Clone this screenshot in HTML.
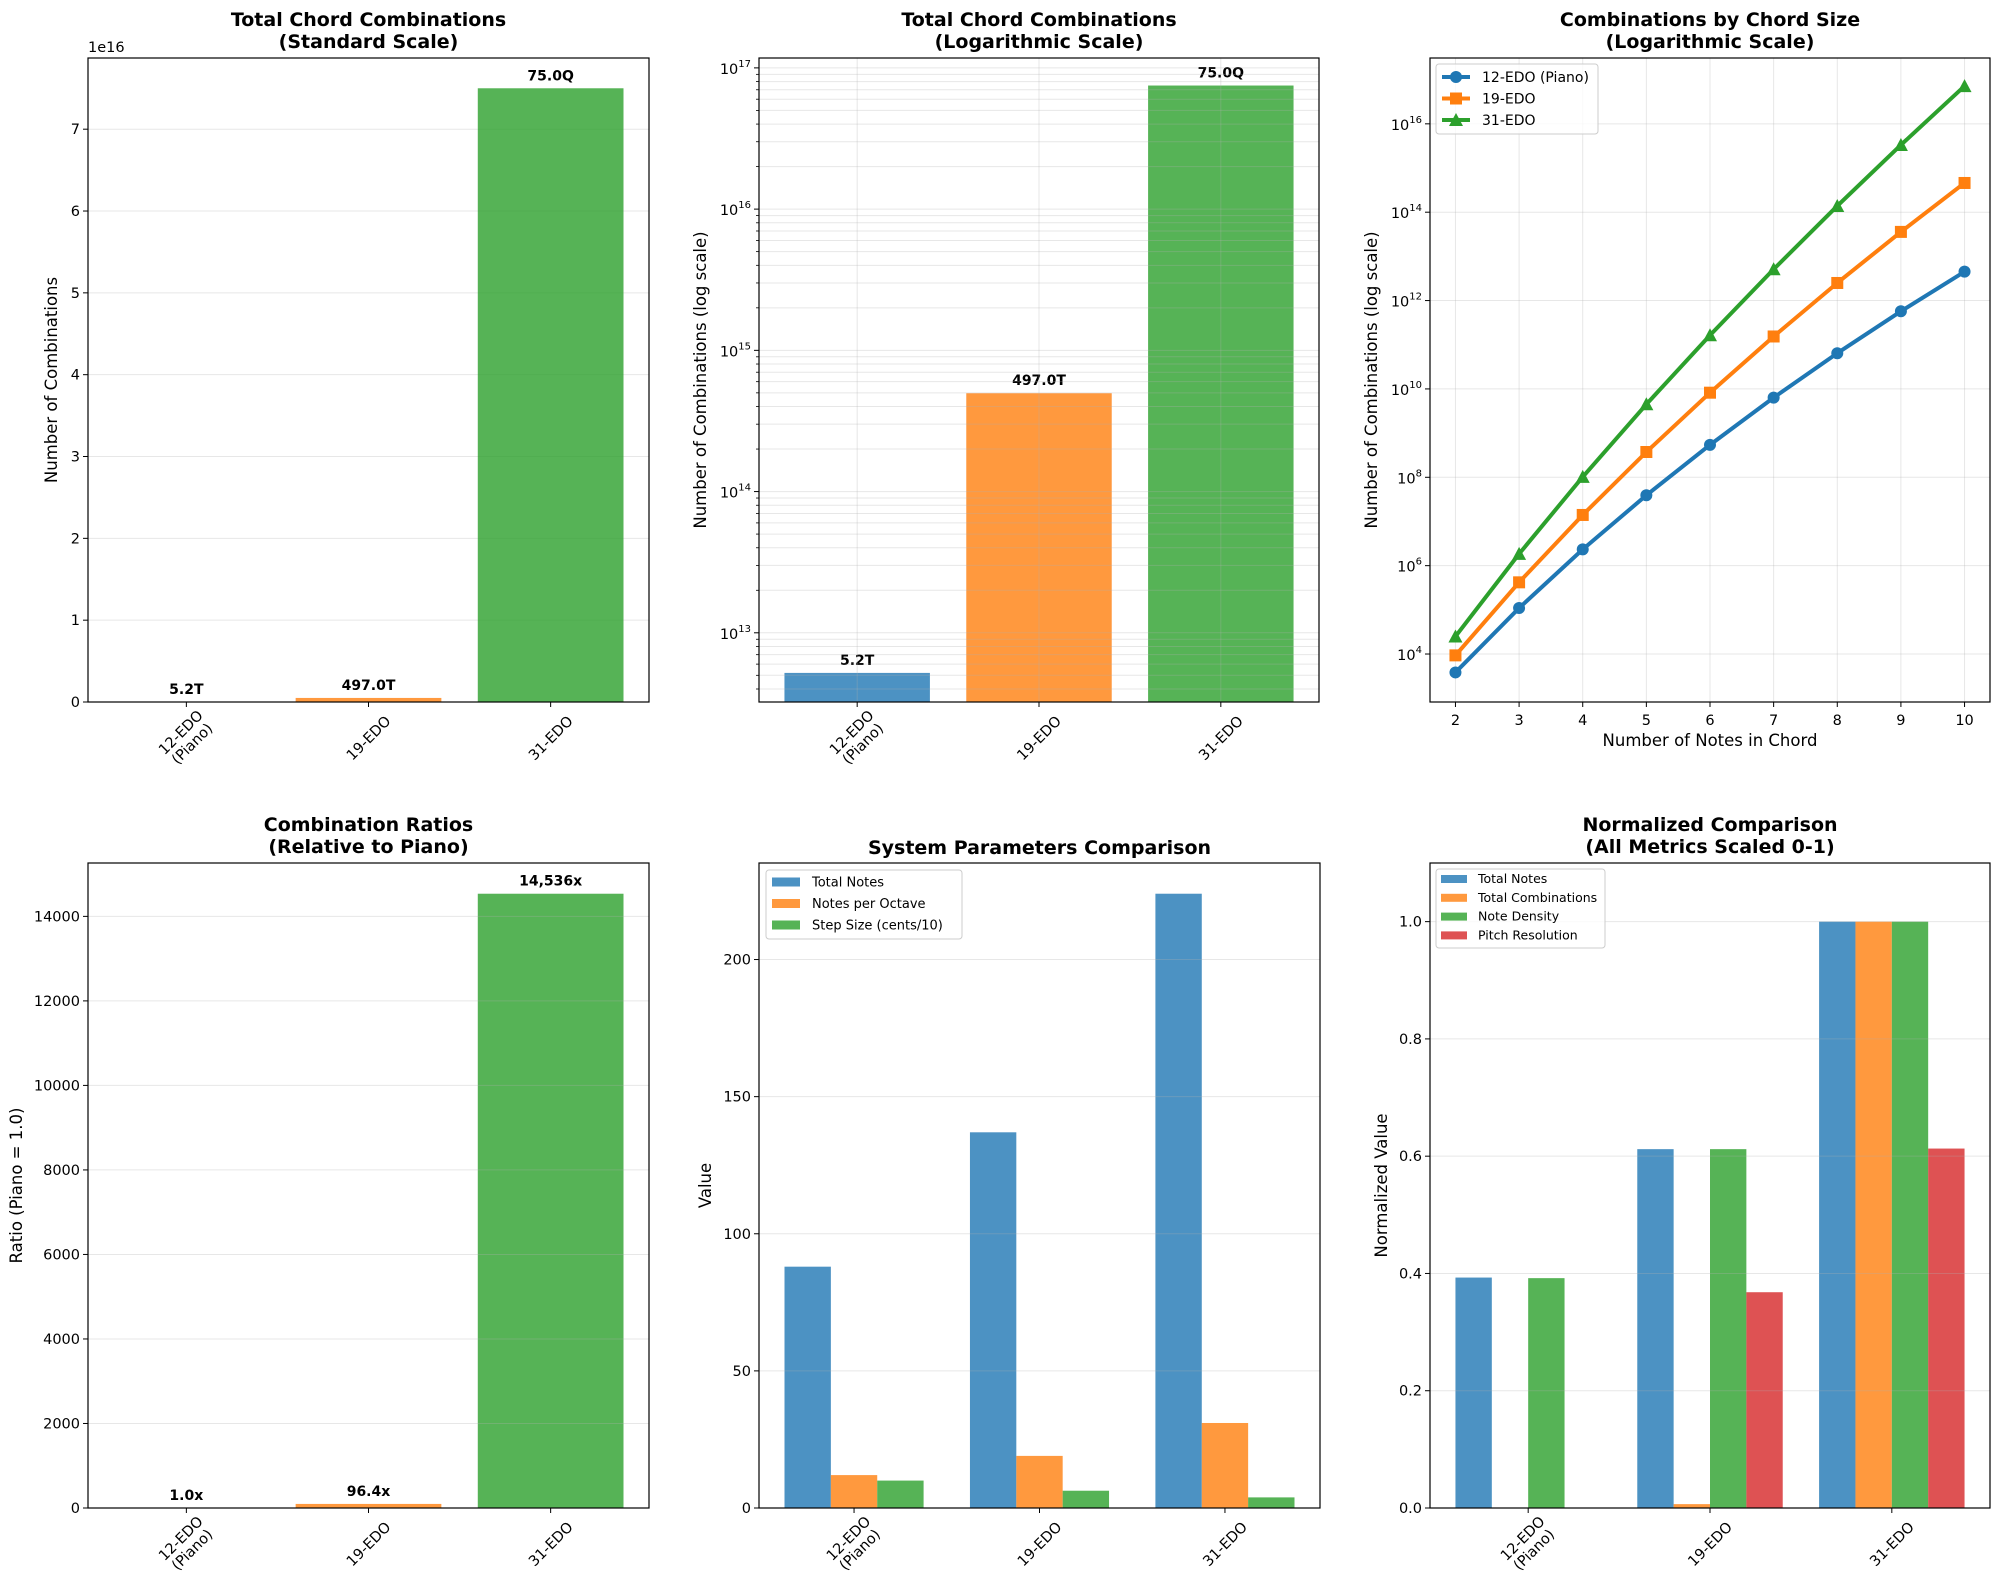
<!DOCTYPE html>
<html><head><meta charset="utf-8">
<style>
html,body{margin:0;padding:0;background:#fff;}
svg{display:block;font-family:"DejaVu Sans","Liberation Sans",sans-serif;}
</style></head>
<body>
<svg id="fig" xmlns="http://www.w3.org/2000/svg" width="2000" height="1589" viewBox="0 0 2000 1589">
<rect x="0" y="0" width="2000" height="1589" fill="#fff"/>
</svg>
<script>
// ---------- data ----------
const systems = ['12-EDO|(Piano)', '19-EDO', '31-EDO'];
const totalCombos = [5.2e12, 4.97e14, 7.5e16];
const comboLabels = ['5.2T', '497.0T', '75.0Q'];
const chordSizes = [2, 3, 4, 5, 6, 7, 8, 9, 10];
const combos12 = [3828, 109736, 2331890, 39175752, 541931236, 6348337336, 64276915527, 571350360240, 4513667845896];
const combos19 = [9316, 419220, 14043870, 373566942, 8218472724, 153800000000, 2499500000000, 35826000000000, 458570000000000];
const combos31 = [24976, 1848224, 102114376, 4493032544, 163996000000, 5107300000000, 138535000000000, 3324850000000000, 71484000000000000];
const ratios = [1.0, 96.4, 14536];
const ratioLabels = ['1.0x', '96.4x', '14,536x'];
const totalNotes = [88, 137, 224];
const notesPerOctave = [12, 19, 31];
const stepSize = [10, 6.3, 3.87];
const normNotes = [0.393, 0.612, 1.0];
const normCombos = [0.00007, 0.0066, 1.0];
const normDensity = [0.392, 0.612, 1.0];
const normPitch = [0, 0.368, 0.613];
const ticks1 = [0, 1, 2, 3, 4, 5, 6, 7];
const logTicks2 = [13, 14, 15, 16, 17];
const logTicks3 = [4, 6, 8, 10, 12, 14, 16];
const ticks4 = [0, 2000, 4000, 6000, 8000, 10000, 12000, 14000];
const ticks5 = [0, 50, 100, 150, 200];
const ticks6 = [0, 0.2, 0.4, 0.6, 0.8, 1.0];

// ---------- helpers ----------
const NS = 'http://www.w3.org/2000/svg';
const svg = document.getElementById('fig');
const C = {blue:'#1f77b4', orange:'#ff7f0e', green:'#2ca02c', red:'#d62728'};
const TF = 14.5;
function mk(tag, parent, attrs) {
  const e = document.createElementNS(NS, tag);
  for (const k in attrs) e.setAttribute(k, attrs[k]);
  parent.appendChild(e);
  return e;
}
function sx(ax, v) { return ax.x0 + (v - ax.xmin) / (ax.xmax - ax.xmin) * (ax.x1 - ax.x0); }
function sy(ax, v) {
  const t = ax.log ? Math.log10(v) : v;
  return ax.y1 - (t - ax.ymin) / (ax.ymax - ax.ymin) * (ax.y1 - ax.y0);
}
function hgrid(ax, g, y) {
  const l = mk('line', g, {x1:ax.x0, x2:ax.x1, y1:y, y2:y, stroke:'#b0b0b0', 'stroke-opacity':0.3, 'stroke-width':1});
  
  
}
function vgrid(ax, g, x) {
  const l = mk('line', g, {x1:x, x2:x, y1:ax.y0, y2:ax.y1, stroke:'#b0b0b0', 'stroke-opacity':0.3, 'stroke-width':1});
  
  
}
function ytick(ax, g, y, label, sup) {
  mk('line', g, {x1:ax.x0-5, x2:ax.x0, y1:y, y2:y, stroke:'#000', 'stroke-width':1});
  const t = mk('text', g, {x:ax.x0-8, y:y+5, 'text-anchor':'end', 'font-size':TF, fill:'#000'});
  
  
  if (sup !== undefined) {
    t.setAttribute('y', y + 6);
    const a = mk('tspan', t, {}); a.textContent = '10';
    const b = mk('tspan', t, {dy:-7, 'font-size':10}); b.textContent = sup;
  } else t.textContent = label;
}
function xtickRot(ax, g, x, label) {
  mk('line', g, {x1:x, x2:x, y1:ax.y1, y2:ax.y1+5, stroke:'#000', 'stroke-width':1});
  const lines = label.split('|');
  const cy = ax.y1 + 36;
  const t = mk('text', g, {x:x, y:cy, 'text-anchor':'middle', 'font-size':TF, fill:'#000',
    transform:'rotate(-45 ' + x + ' ' + cy + ')'});
  
  
  lines.forEach((s, i) => {
    const sp = mk('tspan', t, {x:x, y: cy + 5 + (i - (lines.length-1)/2) * 16});
    sp.textContent = s;
  });
}
function frame(ax, g) {
  const r = mk('rect', g, {x:ax.x0, y:ax.y0, width:ax.x1-ax.x0, height:ax.y1-ax.y0, fill:'none', stroke:'#000', 'stroke-width':1.2});
  
  
}
function title(g, cx, lines, y) {
  lines.forEach((s, i) => {
    const t = mk('text', g, {x:cx, y:y + i*22, 'text-anchor':'middle', 'font-size':19, 'font-weight':'bold', fill:'#000'});
    
    
    t.textContent = s;
  });
}
function ylabel(g, x, cy, s) {
  const t = mk('text', g, {x:x, y:cy, 'text-anchor':'middle', 'font-size':16.5, fill:'#000', transform:'rotate(-90 ' + x + ' ' + cy + ')'});
  
  
  t.textContent = s;
}
function bar(ax, g, xc, w, v, color, name) {
  const xa = sx(ax, xc - w/2), xb = sx(ax, xc + w/2);
  const base = ax.log ? ax.y1 : sy(ax, 0);
  const top = v > 0 ? sy(ax, v) : base;
  const r = mk('rect', g, {x:xa, y:top, width:xb-xa, height:Math.max(0, base-top), fill:color, 'fill-opacity':0.8});
  
  
  return top;
}
function barLabel(g, x, y, s) {
  const t = mk('text', g, {x:x, y:y-8, 'text-anchor':'middle', 'font-size':14, 'font-weight':'bold', fill:'#000'});
  
  
  t.textContent = s;
}
function legendBox(g, x, y, w, h) {
  const r = mk('rect', g, {x:x, y:y, width:w, height:h, rx:3, fill:'#fff', 'fill-opacity':0.8, stroke:'#ccc', 'stroke-width':1});
  
  
}
const barColors = [C.blue, C.orange, C.green];

// ---------- chart 1 ----------
const A1 = {x0:88, x1:649, y0:58, y1:702, xmin:-0.54, xmax:2.54, ymin:0, ymax:7.87e16};
const g1 = mk('g', svg, {});


ticks1.forEach(t => hgrid(A1, g1, sy(A1, t*1e16)));
totalCombos.forEach((v, i) => {
  const top = bar(A1, g1, i, 0.8, v, barColors[i], 'bar-total-' + i);
  barLabel(g1, sx(A1, i), top, comboLabels[i]);
});
ticks1.forEach(t => ytick(A1, g1, sy(A1, t*1e16), String(t)));
systems.forEach((s, i) => xtickRot(A1, g1, sx(A1, i), s));
frame(A1, g1);
const off1 = mk('text', g1, {x:A1.x0, y:52, 'font-size':TF, fill:'#000'});


off1.textContent = '1e16';
title(g1, (A1.x0+A1.x1)/2, ['Total Chord Combinations', '(Standard Scale)'], 26);
ylabel(g1, 57, (A1.y0+A1.y1)/2, 'Number of Combinations');

// ---------- chart 2 ----------
const A2 = {x0:759, x1:1319, y0:58, y1:702, xmin:-0.54, xmax:2.54, ymin:12.51, ymax:17.07, log:true};
const g2 = mk('g', svg, {});


totalCombos.forEach((v, i) => {
  const top = bar(A2, g2, i, 0.8, v, barColors[i], 'bar-total-log-' + i);
  barLabel(g2, sx(A2, i), top, comboLabels[i]);
});
for (let d = 12; d <= 17; d++) for (let m = 1; m <= 9; m++) {
  const lv = d + Math.log10(m);
  if (lv < A2.ymin || lv > A2.ymax) continue;
  const y = sy(A2, Math.pow(10, lv));
  hgrid(A2, g2, y);
  if (m > 1) mk('line', g2, {x1:A2.x0-3, x2:A2.x0, y1:y, y2:y, stroke:'#000', 'stroke-width':0.8});
}
systems.forEach((s, i) => vgrid(A2, g2, sx(A2, i)));
logTicks2.forEach(t => ytick(A2, g2, sy(A2, Math.pow(10, t)), '', String(t)));
systems.forEach((s, i) => xtickRot(A2, g2, sx(A2, i), s));
frame(A2, g2);
title(g2, (A2.x0+A2.x1)/2, ['Total Chord Combinations', '(Logarithmic Scale)'], 26);
ylabel(g2, 706, (A2.y0+A2.y1)/2, 'Number of Combinations (log scale)');

// ---------- chart 3 ----------
const A3 = {x0:1430, x1:1990, y0:58, y1:702, xmin:1.6, xmax:10.4, ymin:2.914, ymax:17.49, log:true};
const g3 = mk('g', svg, {});


logTicks3.forEach(t => hgrid(A3, g3, sy(A3, Math.pow(10, t))));
chordSizes.forEach(n => vgrid(A3, g3, sx(A3, n)));
const series3 = [
  {vals: combos12, color: C.blue, marker: 'circle', name: '12-EDO (Piano)'},
  {vals: combos19, color: C.orange, marker: 'square', name: '19-EDO'},
  {vals: combos31, color: C.green, marker: 'triangle', name: '31-EDO'}
];
function marker(g, type, x, y, color) {
  let e;
  if (type === 'circle') e = mk('circle', g, {cx:x, cy:y, r:6, fill:color});
  else if (type === 'square') e = mk('rect', g, {x:x-6, y:y-6, width:12, height:12, fill:color});
  else e = mk('polygon', g, {points:(x)+','+(y-7)+' '+(x-7)+','+(y+6)+' '+(x+7)+','+(y+6), fill:color});
  return e;
}
series3.forEach((s, k) => {
  const pts = chordSizes.map((n, i) => sx(A3, n) + ',' + sy(A3, s.vals[i])).join(' ');
  const pl = mk('polyline', g3, {points:pts, fill:'none', stroke:s.color, 'stroke-width':4, 'stroke-linejoin':'round'});
  
  
  chordSizes.forEach((n, i) => {
    const m = marker(g3, s.marker, sx(A3, n), sy(A3, s.vals[i]), s.color);
    
    
  });
});
logTicks3.forEach(t => ytick(A3, g3, sy(A3, Math.pow(10, t)), '', String(t)));
chordSizes.forEach(n => {
  const x = sx(A3, n);
  mk('line', g3, {x1:x, x2:x, y1:A3.y1, y2:A3.y1+5, stroke:'#000', 'stroke-width':1});
  const t = mk('text', g3, {x:x, y:A3.y1+23, 'text-anchor':'middle', 'font-size':TF, fill:'#000'});
  
  
  t.textContent = String(n);
});
frame(A3, g3);
title(g3, (A3.x0+A3.x1)/2, ['Combinations by Chord Size', '(Logarithmic Scale)'], 26);
ylabel(g3, 1377, (A3.y0+A3.y1)/2, 'Number of Combinations (log scale)');
const xl3 = mk('text', g3, {x:(A3.x0+A3.x1)/2, y:746, 'text-anchor':'middle', 'font-size':16.5, fill:'#000'});


xl3.textContent = 'Number of Notes in Chord';
legendBox(g3, 1436, 64, 162, 70);
series3.forEach((s, k) => {
  const y = 77 + k*21.5;
  mk('line', g3, {x1:1442, x2:1470, y1:y, y2:y, stroke:s.color, 'stroke-width':4});
  marker(g3, s.marker, 1456, y, s.color);
  const t = mk('text', g3, {x:1482, y:y+5, 'font-size':14, fill:'#000'});
  
  
  t.textContent = s.name;
});

// ---------- chart 4 ----------
const A4 = {x0:88, x1:649, y0:863, y1:1508, xmin:-0.54, xmax:2.54, ymin:0, ymax:15263};
const g4 = mk('g', svg, {});


ratios.forEach((v, i) => {
  const top = bar(A4, g4, i, 0.8, v, barColors[i], 'bar-ratio-' + i);
  barLabel(g4, sx(A4, i), top, ratioLabels[i]);
});
ticks4.forEach(t => hgrid(A4, g4, sy(A4, t)));
ticks4.forEach(t => ytick(A4, g4, sy(A4, t), String(t)));
systems.forEach((s, i) => xtickRot(A4, g4, sx(A4, i), s));
frame(A4, g4);
title(g4, (A4.x0+A4.x1)/2, ['Combination Ratios', '(Relative to Piano)'], 831);
ylabel(g4, 22, (A4.y0+A4.y1)/2, 'Ratio (Piano = 1.0)');

// ---------- chart 5 ----------
const A5 = {x0:759, x1:1320, y0:863, y1:1508, xmin:-0.5125, xmax:2.5125, ymin:0, ymax:235.2};
const g5 = mk('g', svg, {});


const series5 = [
  {vals: totalNotes, color: C.blue, name: 'Total Notes'},
  {vals: notesPerOctave, color: C.orange, name: 'Notes per Octave'},
  {vals: stepSize, color: C.green, name: 'Step Size (cents/10)'}
];
series5.forEach((s, k) => s.vals.forEach((v, i) => bar(A5, g5, i + (k-1)*0.25, 0.25, v, s.color, 'bar-param-' + k + '-' + i)));
ticks5.forEach(t => hgrid(A5, g5, sy(A5, t)));
ticks5.forEach(t => ytick(A5, g5, sy(A5, t), String(t)));
systems.forEach((s, i) => xtickRot(A5, g5, sx(A5, i), s));
frame(A5, g5);
title(g5, (A5.x0+A5.x1)/2, ['System Parameters Comparison'], 854);
ylabel(g5, 711, (A5.y0+A5.y1)/2, 'Value');
legendBox(g5, 766, 870, 196, 69);
series5.forEach((s, k) => {
  const y = 882 + k*21.5;
  mk('rect', g5, {x:772, y:y-4.5, width:28, height:9, fill:s.color, 'fill-opacity':0.8});
  const t = mk('text', g5, {x:812, y:y+4.5, 'font-size':13, fill:'#000'});
  
  
  t.textContent = s.name;
});

// ---------- chart 6 ----------
const A6 = {x0:1430, x1:1990, y0:863, y1:1508, xmin:-0.54, xmax:2.54, ymin:0, ymax:1.1};
const g6 = mk('g', svg, {});


const series6 = [
  {vals: normNotes, color: C.blue, name: 'Total Notes'},
  {vals: normCombos, color: C.orange, name: 'Total Combinations'},
  {vals: normDensity, color: C.green, name: 'Note Density'},
  {vals: normPitch, color: C.red, name: 'Pitch Resolution'}
];
series6.forEach((s, k) => s.vals.forEach((v, i) => bar(A6, g6, i + (k-1.5)*0.2, 0.2, v, s.color, 'bar-norm-' + k + '-' + i)));
ticks6.forEach(t => hgrid(A6, g6, sy(A6, t)));
ticks6.forEach(t => ytick(A6, g6, sy(A6, t), t.toFixed(1)));
systems.forEach((s, i) => xtickRot(A6, g6, sx(A6, i), s));
frame(A6, g6);
title(g6, (A6.x0+A6.x1)/2, ['Normalized Comparison', '(All Metrics Scaled 0-1)'], 831);
ylabel(g6, 1387, (A6.y0+A6.y1)/2, 'Normalized Value');
legendBox(g6, 1436, 869, 169, 79);
series6.forEach((s, k) => {
  const y = 879 + k*18.8;
  mk('rect', g6, {x:1441, y:y-4, width:26, height:8, fill:s.color, 'fill-opacity':0.8});
  const t = mk('text', g6, {x:1478, y:y+4, 'font-size':12.5, fill:'#000'});
  
  
  t.textContent = s.name;
});
</script>
</body></html>
